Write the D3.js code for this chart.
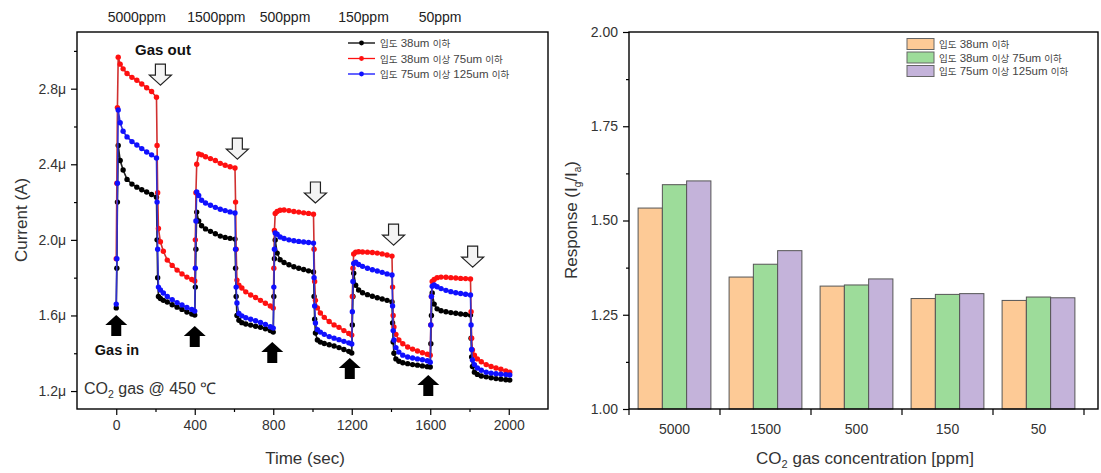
<!DOCTYPE html>
<html>
<head>
<meta charset="utf-8">
<script src="https://cdn.jsdelivr.net/npm/d3@7"></script>
<style>
  body { margin: 0; background: #fff; }
  svg { display: block; font-family: "Liberation Sans", Arial, sans-serif; }
</style>
</head>
<body>
<svg id="chart" width="1101" height="473"></svg>
<script>
// ---- left panel: transient current ----
const time = [
  0, 3, 6, 10, 20, 35, 55, 80, 105, 130, 155, 180, 205, 208, 211, 215, 225, 240, 260, 285, 310, 335, 360, 385,
  400, 403, 406, 410, 420, 435, 455, 480, 505, 530, 555, 580, 605, 608, 611, 615, 625, 640, 660, 685, 710, 735, 760, 785,
  800, 803, 806, 810, 820, 835, 855, 880, 905, 930, 955, 980, 1005, 1008, 1011, 1015, 1025, 1040, 1060, 1085, 1110, 1135, 1160, 1185,
  1200, 1203, 1206, 1210, 1220, 1235, 1255, 1280, 1305, 1330, 1355, 1380, 1405, 1408, 1411, 1415, 1425, 1440, 1460, 1485, 1510, 1535, 1560, 1585,
  1600, 1603, 1606, 1610, 1620, 1635, 1655, 1680, 1705, 1730, 1755, 1780, 1805, 1808, 1811, 1815, 1825, 1840, 1860, 1885, 1910, 1935, 1960, 1985,
  2005
];
// current in µA
const currentBlack = [
  1.64, 1.85, 2.2, 2.50, 2.42, 2.37, 2.32, 2.295, 2.279, 2.265, 2.253, 2.24, 2.226, 2.0, 1.8, 1.70, 1.69, 1.68, 1.671, 1.657, 1.644, 1.632, 1.618, 1.608,
  1.602, 1.75, 1.95, 2.147, 2.10, 2.075, 2.058, 2.045, 2.032, 2.02, 2.013, 2.008, 2.004, 1.85, 1.7, 1.60, 1.575, 1.562, 1.555, 1.549, 1.543, 1.537, 1.53, 1.52,
  1.512, 1.7, 1.9, 1.999, 1.93, 1.895, 1.88, 1.868, 1.858, 1.85, 1.843, 1.836, 1.83, 1.7, 1.58, 1.507, 1.47, 1.459, 1.452, 1.445, 1.438, 1.43, 1.42, 1.41,
  1.401, 1.55, 1.7, 1.824, 1.76, 1.735, 1.72, 1.71, 1.702, 1.694, 1.687, 1.68, 1.671, 1.56, 1.46, 1.40, 1.37, 1.358, 1.35, 1.345, 1.34, 1.337, 1.333, 1.329,
  1.327, 1.45, 1.6, 1.719, 1.66, 1.635, 1.625, 1.62, 1.615, 1.612, 1.608, 1.605, 1.602, 1.48, 1.38, 1.33, 1.30, 1.288, 1.28, 1.275, 1.27, 1.266, 1.263, 1.26,
  1.258
];
const currentRed = [
  1.90, 2.3, 2.7, 2.967, 2.93, 2.905, 2.88, 2.86, 2.845, 2.825, 2.805, 2.785, 2.755, 2.5, 2.25, 2.06, 1.99, 1.94, 1.893, 1.865, 1.84, 1.82, 1.803, 1.79,
  1.782, 2.0, 2.25, 2.40, 2.455, 2.45, 2.44, 2.43, 2.42, 2.405, 2.395, 2.387, 2.38, 2.2, 1.95, 1.787, 1.76, 1.745, 1.725, 1.708, 1.695, 1.68, 1.665, 1.65,
  1.639, 1.85, 2.05, 2.14, 2.15, 2.157, 2.158, 2.155, 2.15, 2.147, 2.143, 2.14, 2.136, 1.95, 1.78, 1.68, 1.64, 1.613, 1.59, 1.568, 1.55, 1.537, 1.52, 1.505,
  1.496, 1.7, 1.85, 1.925, 1.935, 1.937, 1.936, 1.935, 1.933, 1.93, 1.926, 1.92, 1.914, 1.75, 1.6, 1.539, 1.5, 1.47, 1.45, 1.433, 1.422, 1.412, 1.403, 1.395,
  1.39, 1.55, 1.7, 1.78, 1.79, 1.8, 1.803, 1.802, 1.8, 1.798, 1.796, 1.795, 1.793, 1.62, 1.48, 1.417, 1.39, 1.37, 1.355, 1.34, 1.33, 1.322, 1.315, 1.307,
  1.30
];
const currentBlue = [
  1.66, 1.9, 2.3, 2.687, 2.62, 2.575, 2.545, 2.52, 2.502, 2.483, 2.465, 2.45, 2.433, 2.2, 1.95, 1.75, 1.735, 1.719, 1.70, 1.684, 1.668, 1.656, 1.642, 1.632,
  1.623, 1.85, 2.1, 2.253, 2.235, 2.21, 2.195, 2.183, 2.172, 2.162, 2.155, 2.148, 2.142, 1.95, 1.75, 1.666, 1.61, 1.598, 1.588, 1.58, 1.572, 1.563, 1.553, 1.54,
  1.533, 1.75, 1.95, 2.036, 2.03, 2.015, 2.007, 2.0, 1.995, 1.992, 1.989, 1.986, 1.983, 1.8, 1.65, 1.56, 1.525, 1.512, 1.5, 1.488, 1.48, 1.472, 1.463, 1.455,
  1.449, 1.62, 1.78, 1.875, 1.882, 1.87, 1.86, 1.85, 1.842, 1.835, 1.828, 1.82, 1.814, 1.65, 1.52, 1.47, 1.43, 1.406, 1.39, 1.38, 1.375, 1.37, 1.366, 1.36,
  1.353, 1.55, 1.7, 1.755, 1.761, 1.752, 1.742, 1.733, 1.726, 1.72, 1.716, 1.712, 1.708, 1.55, 1.42, 1.364, 1.34, 1.322, 1.31, 1.30, 1.295, 1.292, 1.289, 1.287,
  1.285
];
const seriesNames = ["입도 38um 이하", "입도 38um 이상 75um 이하", "입도 75um 이상 125um 이하"];
const timeTicks = [0, 400, 800, 1200, 1600, 2000];
const timeMinor = [200, 600, 1000, 1400, 1800];
const currentTicks = [1.2, 1.6, 2.0, 2.4, 2.8];
const currentMinor = [1.4, 1.8, 2.2, 2.6, 3.0];
const concLabels = ["5000ppm", "1500ppm", "500ppm", "150ppm", "50ppm"];
const concLabelTime = [105, 510, 860, 1260, 1650];
const gasInTime = [0, 400, 795, 1190, 1590];
const gasInTip = [1.602, 1.544, 1.459, 1.375, 1.285];
const gasOutTime = [225, 617, 1015, 1413, 1816];
const gasOutTip = [2.819, 2.427, 2.195, 1.972, 1.856];

// ---- right panel: response bars ----
const categories = ["5000", "1500", "500", "150", "50"];
const responseSmall = [1.533, 1.35, 1.326, 1.293, 1.288];
const responseMid = [1.595, 1.384, 1.329, 1.304, 1.297];
const responseLarge = [1.605, 1.42, 1.345, 1.306, 1.295];
const responseTicks = [1.00, 1.25, 1.50, 1.75, 2.00];
const responseMinor = [1.125, 1.375, 1.625, 1.875];

const svg = d3.select("#chart");
const textColor = "#333";
const krFont = '"Noto Sans CJK KR", sans-serif';

// mixed Korean / latin text: Korean glyphs drawn a bit smaller like the source
function mixedText(sel, str, size, krSize) {
  str.split(/([\uac00-\ud7a3]+)/).filter(s => s.length).forEach(part => {
    const kr = /[\uac00-\ud7a3]/.test(part);
    sel.append("tspan")
      .attr("font-size", kr ? krSize : size)
      .attr("font-family", kr ? krFont : null)
      .text(part);
  });
}

// ================= LEFT PANEL =================
const L = { left: 77, right: 548, top: 32, bottom: 409 };
const x = d3.scaleLinear().domain([-200, 2200]).range([L.left, L.right]);
const y = d3.scaleLinear().domain([1.105, 3.1]).range([L.bottom, L.top]);

const gl = svg.append("g");

// axes
gl.append("g")
  .attr("transform", `translate(0,${L.bottom})`)
  .call(d3.axisBottom(x).tickValues(timeTicks).tickSize(6).tickPadding(5).tickFormat(d3.format("d")))
  .call(g => g.selectAll("text").attr("font-size", 14).attr("fill", textColor).attr("font-family", null));
gl.append("g")
  .attr("transform", `translate(0,${L.bottom})`)
  .call(d3.axisBottom(x).tickValues(timeMinor).tickSize(3).tickFormat(""));
gl.append("g")
  .attr("transform", `translate(${L.left},0)`)
  .call(d3.axisLeft(y).tickValues(currentTicks).tickSize(6).tickPadding(5).tickFormat(d => d3.format(".1f")(d) + "\u03bc"))
  .call(g => g.selectAll("text").attr("font-size", 14).attr("fill", textColor).attr("font-family", null));
gl.append("g")
  .attr("transform", `translate(${L.left},0)`)
  .call(d3.axisLeft(y).tickValues(currentMinor).tickSize(3).tickFormat(""));
gl.selectAll(".domain").remove();
gl.selectAll(".tick line").attr("stroke", "#000").attr("stroke-width", 1.2);

gl.append("rect")
  .attr("x", L.left).attr("y", L.top)
  .attr("width", L.right - L.left).attr("height", L.bottom - L.top)
  .attr("fill", "none").attr("stroke", "#000").attr("stroke-width", 1.4);

// data lines
const series = [
  { values: currentBlack, color: "#000000", line: "#222222" },
  { values: currentRed, color: "#ff1010", line: "#d03030" },
  { values: currentBlue, color: "#1010ff", line: "#3030d0" }
];
const line = d3.line().x(d => x(d[0])).y(d => y(d[1]));
series.forEach(s => {
  const pts = time.map((t, i) => [t, s.values[i]]);
  gl.append("path")
    .datum(pts)
    .attr("d", line)
    .attr("fill", "none")
    .attr("stroke", s.line)
    .attr("stroke-width", 1.6);
  gl.append("g").selectAll("circle")
    .data(pts)
    .join("circle")
    .attr("cx", d => x(d[0]))
    .attr("cy", d => y(d[1]))
    .attr("r", 2.7)
    .attr("fill", s.color);
});

// gas in arrows (black, pointing up)
const upArrow = "M0,0 L11,10 L5,10 L5,21 L-5,21 L-5,10 L-11,10 Z";
gl.selectAll(".gasin")
  .data(gasInTime)
  .join("path")
  .attr("transform", (t, i) => `translate(${x(t)},${y(gasInTip[i])})`)
  .attr("d", upArrow)
  .attr("fill", "#000");

// gas out arrows (hollow, pointing down)
const downArrow = "M0,0 L-11,-10 L-5,-10 L-5,-21 L5,-21 L5,-10 L11,-10 Z";
gl.selectAll(".gasout")
  .data(gasOutTime)
  .join("path")
  .attr("transform", (t, i) => `translate(${x(t)},${y(gasOutTip[i])})`)
  .attr("d", downArrow)
  .attr("fill", "#f4f4f4")
  .attr("stroke", "#222")
  .attr("stroke-width", 1.2);

// annotations
gl.append("text").attr("x", 163).attr("y", 55).attr("text-anchor", "middle")
  .attr("font-size", 15).attr("font-weight", "bold").attr("fill", "#111").text("Gas out");
gl.append("text").attr("x", 117).attr("y", 355).attr("text-anchor", "middle")
  .attr("font-size", 14.5).attr("font-weight", "bold").attr("fill", "#111").text("Gas in");

const co2 = gl.append("text").attr("x", 84).attr("y", 394).attr("font-size", 16).attr("fill", textColor);
co2.append("tspan").text("CO");
co2.append("tspan").attr("font-size", 10.5).attr("dy", 4).text("2");
co2.append("tspan").attr("dy", -4).text(" gas @ 450 \u2103");

// concentration labels above the plot
gl.selectAll(".conc")
  .data(concLabels)
  .join("text")
  .attr("x", (d, i) => x(concLabelTime[i]))
  .attr("y", 22)
  .attr("text-anchor", "middle")
  .attr("font-size", 14)
  .attr("fill", "#222")
  .text(d => d);

// legend
const legL = gl.append("g");
series.forEach((s, i) => {
  const ly = 43 + i * 15.5;
  legL.append("line").attr("x1", 348).attr("x2", 375).attr("y1", ly).attr("y2", ly)
    .attr("stroke", s.color).attr("stroke-width", 1.3);
  legL.append("circle").attr("cx", 361.5).attr("cy", ly).attr("r", 2.4).attr("fill", s.color);
  const t = legL.append("text").attr("x", 380).attr("y", ly + 4).attr("fill", "#444");
  mixedText(t, seriesNames[i], 11.5, 9.5);
});

// axis titles
gl.append("text").attr("x", 305).attr("y", 464).attr("text-anchor", "middle")
  .attr("font-size", 17).attr("fill", textColor).text("Time (sec)");
gl.append("text").attr("transform", "translate(27,220) rotate(-90)").attr("text-anchor", "middle")
  .attr("font-size", 17).attr("fill", textColor).text("Current (A)");

// ================= RIGHT PANEL =================
const R = { left: 629, right: 1098, top: 32, bottom: 409 };
const x0 = d3.scaleBand().domain(categories).range([R.left, 1084]).paddingInner(0.2).paddingOuter(0.1);
const groups = ["small", "mid", "large"];
const x1 = d3.scaleBand().domain(groups).range([0, x0.bandwidth()]);
const yr = d3.scaleLinear().domain([1, 2]).range([R.bottom, R.top]);
const barColors = d3.scaleOrdinal(groups, ["#fdca96", "#9ddc9a", "#c4b3da"]);

const gr = svg.append("g");

const barData = categories.map((c, i) => ({
  cat: c,
  vals: [
    { key: "small", v: responseSmall[i] },
    { key: "mid", v: responseMid[i] },
    { key: "large", v: responseLarge[i] }
  ]
}));

gr.selectAll(".grp")
  .data(barData)
  .join("g")
  .attr("transform", d => `translate(${x0(d.cat)},0)`)
  .selectAll("rect")
  .data(d => d.vals)
  .join("rect")
  .attr("x", d => x1(d.key))
  .attr("y", d => yr(d.v))
  .attr("width", x1.bandwidth())
  .attr("height", d => yr(1) - yr(d.v))
  .attr("fill", d => barColors(d.key))
  .attr("stroke", "#555")
  .attr("stroke-width", 1);

// x axis: category labels, ticks between groups
const step = x0.step();
const boundaries = d3.range(categories.length + 1).map(i => R.left + i * step);
gr.selectAll(".bt")
  .data(boundaries)
  .join("line")
  .attr("x1", d => d).attr("x2", d => d)
  .attr("y1", R.bottom).attr("y2", R.bottom + 6)
  .attr("stroke", "#000").attr("stroke-width", 1.2);
gr.selectAll(".bl")
  .data(categories)
  .join("text")
  .attr("x", d => x0(d) + x0.bandwidth() / 2)
  .attr("y", R.bottom + 25)
  .attr("text-anchor", "middle")
  .attr("font-size", 14)
  .attr("fill", textColor)
  .text(d => d);

gr.append("g")
  .attr("transform", `translate(${R.left},0)`)
  .call(d3.axisLeft(yr).tickValues(responseTicks).tickSize(6).tickPadding(5).tickFormat(d3.format(".2f")))
  .call(g => g.selectAll("text").attr("font-size", 14).attr("fill", textColor).attr("font-family", null));
gr.append("g")
  .attr("transform", `translate(${R.left},0)`)
  .call(d3.axisLeft(yr).tickValues(responseMinor).tickSize(3).tickFormat(""));
gr.selectAll(".domain").remove();
gr.selectAll(".tick line").attr("stroke", "#000").attr("stroke-width", 1.2);

gr.append("rect")
  .attr("x", R.left).attr("y", R.top)
  .attr("width", R.right - R.left).attr("height", R.bottom - R.top)
  .attr("fill", "none").attr("stroke", "#000").attr("stroke-width", 1.4);

// legend
const legR = gr.append("g");
groups.forEach((k, i) => {
  const ly = 44 + i * 13.5;
  legR.append("rect").attr("x", 907).attr("y", ly - 5.5).attr("width", 27).attr("height", 11)
    .attr("fill", barColors(k)).attr("stroke", "#666").attr("stroke-width", 1);
  const t = legR.append("text").attr("x", 939).attr("y", ly + 4).attr("fill", "#444");
  mixedText(t, seriesNames[i], 11.5, 9.5);
});

// axis titles
const xt = gr.append("text").attr("x", 865).attr("y", 464).attr("text-anchor", "middle")
  .attr("font-size", 17).attr("fill", textColor);
xt.append("tspan").text("CO");
xt.append("tspan").attr("font-size", 11).attr("dy", 4).text("2");
xt.append("tspan").attr("dy", -4).text(" gas concentration [ppm]");

const yt = gr.append("text").attr("transform", "translate(577,220) rotate(-90)").attr("text-anchor", "middle")
  .attr("font-size", 17).attr("fill", textColor);
yt.append("tspan").text("Response (I");
yt.append("tspan").attr("font-size", 10).attr("dy", 4).text("g");
yt.append("tspan").attr("dy", -4).text("/I");
yt.append("tspan").attr("font-size", 10).attr("dy", 4).text("a");
yt.append("tspan").attr("dy", -4).text(")");
</script>
</body>
</html>
